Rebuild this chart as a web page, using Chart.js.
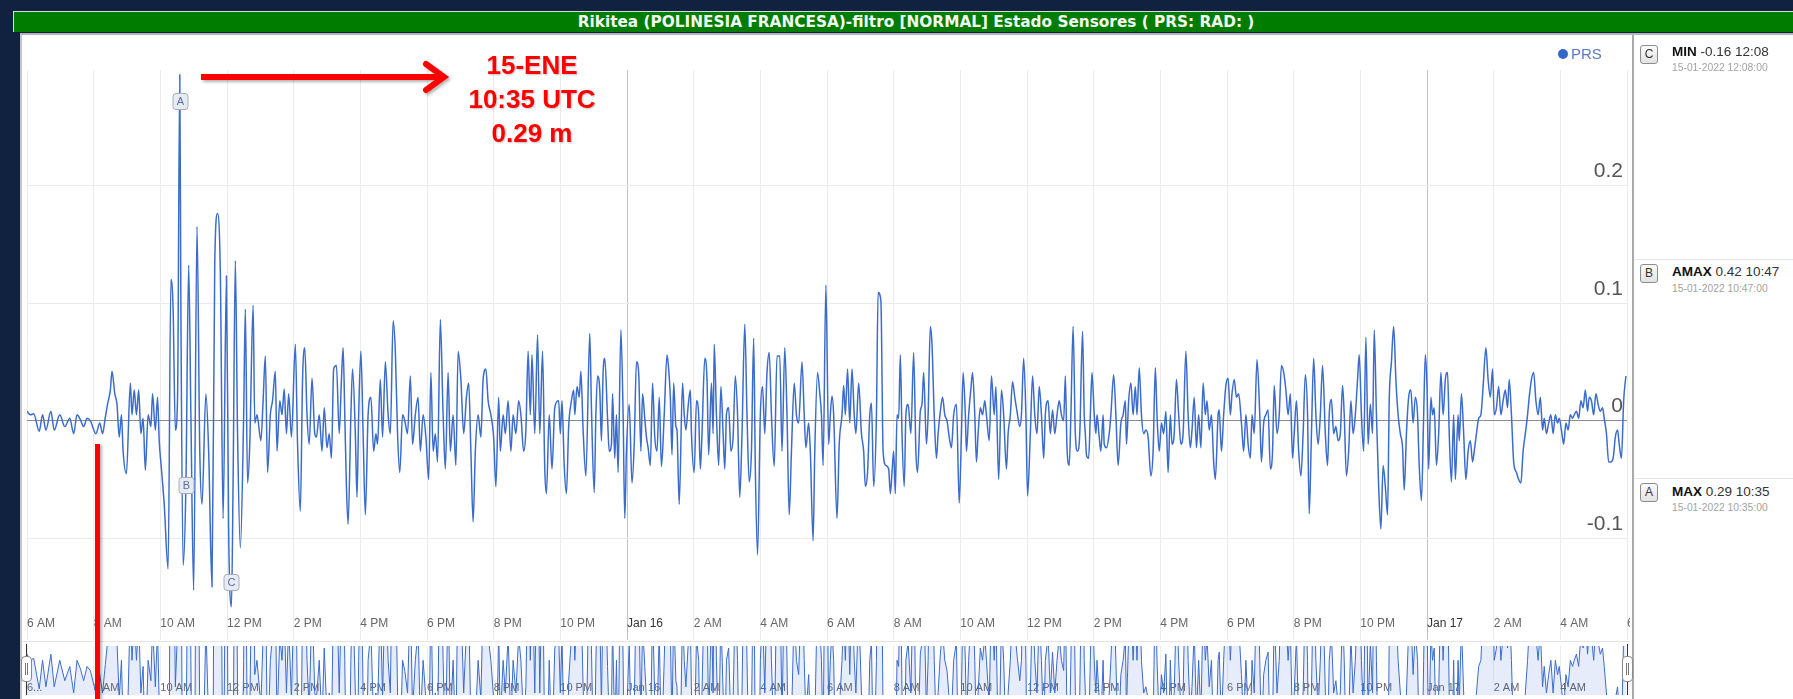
<!DOCTYPE html>
<html>
<head>
<meta charset="utf-8">
<title>Rikitea PRS</title>
<script src="https://cdn.jsdelivr.net/npm/chart.js@4.4.1/dist/chart.umd.min.js"></script>
<style>
  html, body { margin:0; padding:0; }
  body { width:1793px; height:699px; background:#112240; position:relative; overflow:hidden; font-family:"Liberation Sans", Arial, sans-serif; }
  #titlebar { position:absolute; left:13px; top:11px; width:1780px; height:20px; background:#007c00; border-top:1px solid #d6ddd6; border-left:1px solid #d6ddd6; }
  #titletext { position:absolute; left:0; top:0; width:1804px; height:20px; line-height:20px; text-align:center; color:#f2f7f2; font-family:"DejaVu Sans","DejaVu Sans Condensed",sans-serif; font-weight:bold; font-size:15px; white-space:nowrap; }
  #panel { position:absolute; left:20px; top:33px; right:0; bottom:0; background:#fff; border-top:2px solid #b4b4b4; border-left:2px solid #c4c4c4; }
  #mainwrap { position:absolute; left:23px; top:36px; width:1607px; height:604px; overflow:hidden; }
  #navwrap { position:absolute; left:23px; top:641px; width:1607px; height:55px; overflow:hidden; border-top:1px solid #e4e4e4; }
  #sep { position:absolute; left:1632px; top:35px; width:2px; bottom:0; background:#a9a9a9; }
  .hline { position:absolute; left:1634px; right:0; height:1px; background:#e6e6e6; }
  .abox { position:absolute; left:1640px; width:16px; height:17px; border:1px solid #8c8c8c; border-radius:3px; background:linear-gradient(#fbfbfb,#e2e2e2); font-size:12px; line-height:17px; text-align:center; color:#333; }
  .atext { position:absolute; left:1672px; font-size:13.5px; color:#333; white-space:nowrap; }
  .atext b { color:#111; }
  .asub { position:absolute; left:1672px; font-size:10.3px; color:#a3a3a3; white-space:nowrap; }
  #legend { position:absolute; left:1558px; top:46px; height:16px; line-height:16px; font-size:15px; color:#5b78c8; white-space:nowrap; }
  #legend span.dot { display:inline-block; width:10px; height:10px; border-radius:50%; background:#3366cc; vertical-align:0px; margin-right:3px; }
  .handle { position:absolute; width:9px; height:24px; top:656px; border:1px solid #8a8a8a; border-radius:4px; background:#fff; }
  .handle i { position:absolute; top:6px; width:1px; height:12px; background:#777; }
  .hbar { position:absolute; top:644px; width:1px; height:51px; background:#333; }
  #redtext { position:absolute; left:432px; top:48px; width:200px; text-align:center; color:#ff0000; font-weight:bold; font-size:26px; line-height:34px; text-shadow:1px 1px 2px rgba(0,0,0,0.25); }
  #redline { position:absolute; left:95px; top:444px; width:5px; bottom:0; background:#ff0000; box-shadow:2px 1px 3px rgba(0,0,0,0.3); }
  #arrow { position:absolute; left:190px; top:55px; }
</style>
</head>
<body>
<div id="titlebar"><div id="titletext">Rikitea (POLINESIA FRANCESA)-filtro [NORMAL] Estado Sensores ( PRS: RAD: )</div></div>
<div id="panel"></div>
<div id="mainwrap"><canvas id="main" width="1660" height="604"></canvas></div>
<div id="navwrap"><canvas id="nav" width="1607" height="55"></canvas></div>
<div id="sep"></div>

<div id="legend"><span class="dot"></span>PRS</div>

<div class="abox" style="top:45px">C</div>
<div class="atext" style="top:44px"><b>MIN</b> -0.16 12:08</div>
<div class="asub" style="top:62px">15-01-2022 12:08:00</div>
<div class="hline" style="top:259px"></div>
<div class="abox" style="top:264px">B</div>
<div class="atext" style="top:264px"><b>AMAX</b> 0.42 10:47</div>
<div class="asub" style="top:283px">15-01-2022 10:47:00</div>
<div class="hline" style="top:478px"></div>
<div class="abox" style="top:483px">A</div>
<div class="atext" style="top:484px"><b>MAX</b> 0.29 10:35</div>
<div class="asub" style="top:502px">15-01-2022 10:35:00</div>

<div class="hbar" style="left:26px"></div>
<div class="handle" style="left:21px"><i style="left:3px"></i><i style="left:5px"></i></div>
<div class="hbar" style="left:1627px"></div>
<div class="handle" style="left:1622px"><i style="left:3px"></i><i style="left:5px"></i></div>

<svg id="arrow" width="270" height="45" style="overflow:visible">
  <defs><filter id="sh" x="-10%" y="-30%" width="120%" height="160%"><feDropShadow dx="2" dy="2" stdDeviation="1.5" flood-opacity="0.3"/></filter></defs>
  <g filter="url(#sh)" stroke="#ff0000" fill="none" stroke-width="6">
    <line x1="11" y1="22" x2="252" y2="22" stroke-linecap="butt"/>
    <polyline points="236,9 254,22 236,35" stroke-linecap="round" stroke-linejoin="miter"/>
  </g>
</svg>
<div id="redtext">15-ENE<br>10:35 UTC<br>0.29 m</div>
<div id="redline"></div>

<script>
// ---- DATA (minutes after 2022-01-15 06:00 UTC, PRS level in m) ----
const prsMinutes = [
  0,6,12,22,28,34,43,49,59,68, 77,84,90,96,102,108,114,124,131,136,
  141,145,150,153,158,162,166,170,173,179, 186,189,193,197,201,205,209,213,218,223,
  226,231,235,238,242,247,254,259,263,267, 271,275,277,281,286,291,295,300,306,311,
  315,322,327,333,338,343,348,353,359,363, 368,371,375,379,384,390,393,397,401,407,
  410,414,421,425,429,433,438,442,447,450, 455,459,463,467,471,476,483,487,492,496,
  500,504,508,513,518,521,526,531,535,540, 544,548,552,557,562,566,569,572,575,578,
  583,586,591,594,597,601,605,609,614,619, 624,628,631,636,640,645,650,654,659,663,
  667,671,676,680,685,690,694,699,704,708, 713,718,723,727,731,735,739,744,749,753,
  758,762,767,772,776,781,786,791,795,799, 803,807,812,817,821,826,830,835,840,844,
  849,852,857,861,866,871,875,880,885,889, 894,898,902,906,909,914,919,923,928,932,
  935,940,945,950,
  957,960,963,967,971,975,980,984,986,990, 994,997,1001,1006,1013,1016,1021,1024,1027,1031,
  1034,1037,1040,1045,1048,1052,1054,1058,1061,1064, 1069,1073,1076,1079,1084,1089,1093,1097,1101,1105,
  1108,1112,1115,1118,1122,1126,1130,1134,1138,1142, 1147,1152,1155,1158,1161,1164,1168,1170,1174,1180,
  1183,1186,1190,1194,1196,1201,1205,1209,1212,1215, 1220,1224,1227,1232,1235,1237,1241,1245,1249,1253,
  1256,1259,1263,1267,1271,1275,1279,1283,1287,1292, 1296,1300,1304,1308,1311,1315,1320,1324,1328,1332,
  1336,1340,1345,1350,1355,1359,1364,1368,1372,1376, 1381,1385,1389,1395,1399,1402,1407,1410,1415,1418,
  1423,1427,1430,1433,1438,1443,1446,1449,1452,1458, 1462,1467,1470,1473,1477,1481,1485,1489,1492,1497,
  1502,1506,1509,1513,1517,1520,1524,1529,1532,1537, 1541,1546,1551,1554,1557,1560,1563,1566,1569,1572,
  1575,1579,1582,1586,1591,1596,1600,1603,1608,1611, 1614,1619,1622,1626,1629,1633,1637,1640,1644,1648,
  1652,1656,1660,1664,1668,1673,1678,1682,1685,1689, 1691,1695,1699,1702,1706,1709,1712,1716,1720,1724,
  1727,1732,1736,1741,1744,1749,1754,1758,1763,1766, 1770,1774,1778,1783,1787,1790,1794,1798,1801,1806,
  1810,1814,1818,1822,1826,1830,1833,1838,1842,1846, 1850,1854,1858,1862,1866,1869,1872,1876,1879,1883,
  1887,1891,1895,1900,1903,
  1905,1907,1911,1914,1917,1921,1924,1926,1930,1933, 1937,1939,1943,1948,1951,1956,1960,1964,1969,1973,
  1977,1979,1983,1987,1991,1995,1998,2002,2006,2010, 2014,2018,2023,2027,2031,2034,2038,2042,2046,2050,
  2054,2058,2061,2065,2069,2073,2077,2081,2086,2090, 2094,2097,2101,2105,2109,2113,2117,2121,2124,2128,
  2132,2136,2139,2144,2146,2150,2154,2158,2162,2166, 2169,2173,2177,2181,2186,2190,2194,2198,2202,2205,
  2209,2214,2219,2222,2226,2230,2234,2238,2242,2245, 2250,2254,2258,2262,2266,2270,2274,2278,2281,2285,
  2289,2293,2297,2301,2305,2308,2312,2316,2320,2324, 2328,2332,2337,2341,2344,2348,2352,2356,2360,2364,
  2368,2371,2375,2379,2383,2387,2391,2395,2398,2402, 2406,2410,2414,2418,2422,2425,2429,2433,2437,2441,
  2445,2449,2452,2456,2460,2464,2468,2472,2476,2479, 2483,2487,2491,2495,2499,2503,2506,2510,2514,2517,
  2520,2523,2527,2530,2533,2537,2541,2545,2549,2553, 2557,2560,2564,2568,2571,2576,2578,2582,2586,2590,
  2594,2598,2602,2605,2609,2613,2617,2621,2626,2630, 2634,2638,2641,2645,2649,2653,2657,2661,2665,2668,
  2672,2676,2681,2685,2689,2693,2697,2701,2704,2708, 2712,2716,2720,2724,2728,2731,2735,2739,2743,2747,
  2751,2755,2758,2762,2766,2770,2774,2778,2782,2785, 2789,2793,2797,2801,2805,2809,2812,2816,2820,2824,
  2828,2832,2836,2839,2843,2847,2851,2855,2859,2863, 2866,2870,2874,2878
];
const prsValues = [
  0.008,0.005,0.006,-0.009,0.005,-0.008,0.008,-0.008,0.005,-0.005, 0.002,-0.011,0.005,0.001,-0.005,0.002,0.000,-0.011,-0.002,-0.011,
  0.003,0.014,0.026,0.042,0.023,0.014,-0.014,0.005,-0.026,-0.045, 0.032,0.005,0.026,0.005,0.026,-0.011,0.002,-0.042,0.005,-0.005,
  0.023,-0.008,0.020,-0.017,-0.041,-0.071,-0.126,0.120,0.095,-0.008, 0.020,0.294,0.095,-0.123,-0.056,0.132,0.005,-0.144,0.165,-0.026,
  -0.071,0.023,-0.026,-0.141,0.135,0.176,0.126,-0.083,0.123,-0.095, -0.158,-0.050,0.136,-0.011,-0.108,0.005,0.095,-0.053,-0.020,0.098,
  -0.002,0.005,-0.017,0.017,0.055,-0.044,0.005,0.017,0.042,-0.026, 0.017,0.005,0.027,-0.011,0.023,-0.014,0.065,-0.020,-0.077,0.035,
  0.062,0.005,-0.020,0.036,-0.011,-0.014,0.005,-0.026,0.011,-0.023, -0.011,-0.032,0.044,0.047,-0.011,0.035,0.062,0.005,-0.056,-0.088,
  0.005,0.044,-0.011,-0.065,0.005,0.059,-0.011,-0.080,0.005,0.020, -0.026,-0.011,-0.020,0.035,-0.014,0.050,0.005,-0.011,0.085,0.059,
  -0.011,-0.044,0.005,0.000,-0.011,0.038,-0.020,0.005,0.020,-0.026, 0.005,-0.014,-0.050,0.041,-0.026,-0.011,-0.035,0.086,0.005,-0.041,
  0.041,-0.026,0.005,-0.038,0.059,0.035,-0.011,0.020,0.032,-0.026, -0.086,-0.026,0.005,-0.014,0.035,0.044,0.017,0.005,-0.014,-0.056,
  0.020,-0.026,0.005,-0.011,0.017,-0.026,0.005,-0.011,0.017,0.005, -0.026,-0.008,0.059,0.005,0.056,-0.011,0.073,-0.011,0.059,-0.041,
  -0.062,0.005,-0.041,0.011,
  0.017,-0.011,0.017,-0.038,-0.062,-0.005,0.017,0.026,0.005,0.029, 0.020,0.042,-0.008,-0.047,0.074,0.011,-0.061,0.005,0.038,0.026,
  -0.017,0.041,0.053,0.002,-0.026,-0.020,0.023,-0.032,0.005,-0.044, 0.077,0.005,-0.083,-0.026,0.014,-0.053,-0.020,0.050,0.041,-0.026,
  0.023,0.002,-0.014,-0.023,-0.038,0.032,-0.014,-0.026,0.020,-0.039, 0.005,0.056,0.044,0.020,-0.029,0.032,-0.005,-0.008,-0.071,0.032,
  0.005,-0.008,0.012,0.026,-0.011,-0.044,0.017,0.005,-0.041,-0.011, 0.053,0.035,-0.029,0.032,-0.011,0.065,0.005,-0.038,0.029,-0.011,
  -0.041,0.005,0.011,-0.026,-0.014,0.038,0.005,-0.065,-0.011,0.082, 0.005,-0.052,-0.026,0.070,-0.041,-0.114,0.005,0.029,-0.011,0.041,
  0.058,0.005,-0.039,0.055,0.055,-0.026,0.062,0.005,-0.080,-0.026, 0.032,0.005,-0.002,0.050,0.005,-0.023,-0.002,-0.026,-0.102,-0.026,
  0.041,0.023,0.005,-0.038,0.115,-0.020,0.005,0.021,0.005,-0.083, -0.020,0.005,0.030,0.005,0.044,-0.002,0.044,0.005,-0.011,0.032,
  -0.011,-0.026,-0.056,-0.044,0.005,0.015,-0.056,0.005,0.109,0.102, -0.026,-0.038,-0.041,-0.062,-0.044,-0.026,-0.062,0.005,0.002,0.056,
  -0.011,-0.056,0.005,0.014,-0.011,0.058,-0.026,-0.044,0.008,0.014, 0.041,-0.020,0.005,0.080,0.065,0.005,-0.032,-0.011,0.008,0.020,
  0.005,0.000,-0.014,-0.023,0.005,0.014,-0.070,-0.011,0.041,0.005, -0.026,0.005,0.027,0.041,0.005,-0.035,-0.011,0.011,0.005,0.017,
  0.005,-0.017,0.038,0.005,0.029,-0.050,0.026,0.005,-0.041,-0.011, 0.005,0.033,0.020,0.005,-0.005,0.005,0.053,0.005,-0.064,-0.011,
  0.038,0.005,-0.011,0.029,0.005,-0.032,0.005,0.017,-0.011,0.009, -0.011,0.005,0.017,0.005,0.000,0.038,-0.023,-0.038,0.005,0.080,
  -0.011,-0.026,-0.011,0.076,0.005,
  -0.011,-0.029,-0.032,0.005,0.041,0.005,-0.011,0.005,-0.014,-0.026, 0.005,-0.020,-0.023,-0.011,0.005,0.039,0.005,-0.038,-0.002,0.005,
  0.017,-0.020,0.017,0.032,0.005,0.029,0.005,0.045,0.005,-0.011, -0.008,-0.014,-0.047,-0.026,0.045,0.005,-0.026,-0.002,-0.011,0.008,
  -0.044,0.005,-0.020,-0.011,0.035,0.005,-0.020,-0.011,0.059,0.005, -0.023,-0.008,0.020,-0.023,0.005,-0.023,0.032,0.005,0.017,-0.008,
  0.005,-0.035,-0.050,0.005,0.009,-0.026,0.005,0.030,0.036,0.005, 0.023,0.035,0.020,0.023,-0.002,-0.026,0.005,-0.020,-0.032,0.005,
  -0.011,0.052,0.005,-0.035,-0.002,0.005,0.009,-0.041,-0.026,0.030, -0.011,0.005,0.047,0.041,0.026,0.005,0.023,-0.032,-0.011,0.017,
  -0.026,-0.047,-0.011,0.039,0.005,-0.079,-0.011,0.053,0.005,-0.020, 0.005,0.047,-0.011,-0.038,0.005,0.018,-0.011,-0.005,-0.017,-0.011,
  0.030,0.005,-0.047,-0.026,0.017,-0.011,0.005,0.035,0.056,0.005, -0.026,0.071,-0.020,0.014,-0.011,0.077,0.005,-0.056,-0.092,-0.038,
  -0.056,-0.080,0.017,0.050,0.080,0.035,0.005,-0.011,-0.023,-0.059, -0.011,0.020,0.026,-0.002,0.020,0.005,-0.038,-0.068,0.005,0.056,
  0.029,-0.041,0.020,0.005,0.011,-0.038,-0.011,0.041,0.005,0.035, 0.041,-0.011,-0.052,0.005,-0.050,0.005,-0.017,0.023,-0.011,-0.050,
  -0.026,-0.017,-0.035,-0.026,-0.011,0.002,0.005,0.029,0.062,0.035, 0.020,0.044,0.005,0.011,0.029,0.005,0.017,0.026,0.011,0.035,
  0.005,-0.035,-0.044,-0.050,-0.053,-0.026,-0.011,0.005,0.020,0.035, 0.041,0.017,0.005,0.020,-0.008,0.002,-0.011,-0.002,0.005,-0.011,
  0.005,-0.002,0.002,-0.008,-0.020,-0.002,-0.008,0.005,0.002,0.005, 0.008,0.002,0.017,0.011,0.026,0.008,0.020,0.017,0.005,0.023,
  0.014,0.008,0.011,0.002,-0.011,-0.035,-0.035,-0.032,-0.014,-0.008, -0.020,-0.032,0.017,0.038
];

// x-axis ticks every 2 h (minutes after 06:00 UTC on Jan 15)
const tickMinutes = [0,120,240,360,480,600,720,840,960,1080,1200,1320,1440,1560,1680,1800,1920,2040,2160,2280,2400,2520,2640,2760,2880];
const tickLabels = ["6 AM","8 AM","10 AM","12 PM","2 PM","4 PM","6 PM","8 PM","10 PM","Jan 16","2 AM","4 AM","6 AM","8 AM","10 AM","12 PM","2 PM","4 PM","6 PM","8 PM","10 PM","Jan 17","2 AM","4 AM","6 AM"];
const navTickLabels = ["6...","8 AM","10 AM","12 PM","2 PM","4 PM","6 PM","8 PM","10 PM","Jan 16","2 AM","4 AM","6 AM","8 AM","10 AM","12 PM","2 PM","4 PM","6 PM","8 PM","10 PM","Jan 17","2 AM","4 AM",""];
const dayTicks = [1080, 2520];
const yTickValues = [-0.1, 0, 0.1, 0.2];
const yTickLabels = ["-0.1", "0", "0.1", "0.2"];
const yRange = [-0.16, 0.298];

// annotation flags
const flagLetters = ["A", "B", "C"];
const flagMinutes = [275, 287, 368];   // 10:35, 10:47, 12:08
const flagLevels = [0.272, -0.055, -0.137];

// fit title text to its measured width in the reference
(function () {
  const el = document.getElementById('titletext');
  const c = document.createElement('canvas').getContext('2d');
  c.font = 'bold 15px "DejaVu Sans"';
  const w = c.measureText(el.textContent).width;
  if (w > 0) el.style.fontSize = (15 * 677 / w).toFixed(2) + 'px';
})();

// ---- CHART ----
const n = Math.min(prsMinutes.length, prsValues.length);
const points = [];
for (let i = 0; i < n; i++) points.push({ x: prsMinutes[i], y: prsValues[i] });

const FONT = '"Liberation Sans", Arial, sans-serif';

const flagPlugin = {
  id: 'flags',
  afterDatasetsDraw(chart) {
    const { ctx } = chart; const xs = chart.scales.x, ys = chart.scales.y;
    ctx.save();
    ctx.font = '11px ' + FONT;
    ctx.textAlign = 'center'; ctx.textBaseline = 'middle';
    flagLetters.forEach((L, i) => {
      const cx = Math.round(xs.getPixelForValue(flagMinutes[i]));
      const cy = Math.round(ys.getPixelForValue(flagLevels[i]));
      const w = 15, h = 16;
      ctx.beginPath();
      ctx.roundRect(cx - w / 2 + 0.5, cy - h / 2 + 0.5, w, h, 3);
      ctx.fillStyle = '#e8ebf1'; ctx.fill();
      ctx.strokeStyle = '#a6adbd'; ctx.lineWidth = 1; ctx.stroke();
      ctx.fillStyle = '#5a6ea8';
      ctx.fillText(L, cx + 0.5, cy + 1);
    });
    ctx.restore();
  }
};

new Chart(document.getElementById('main'), {
  type: 'line',
  data: { datasets: [{ data: points, borderColor: '#3b6ccc', borderWidth: 1.5, pointRadius: 0,
    cubicInterpolationMode: 'monotone', fill: false }] },
  options: {
    responsive: false, animation: false, events: [],
    layout: { padding: { left: 4, top: 34, right: 56, bottom: 0 } },
    plugins: { legend: { display: false }, tooltip: { enabled: false } },
    scales: {
      x: {
        type: 'linear', min: 0, max: 2880, position: 'bottom',
        afterBuildTicks: s => { s.ticks = tickMinutes.map(v => ({ value: v })); },
        afterFit: s => { s.height = 31; },
        border: { display: false },
        grid: {
          color: c => dayTicks.includes(c.tick && c.tick.value) ? '#c2c2c2' : '#ebebeb',
          lineWidth: 1, drawTicks: true, tickLength: 31
        },
        ticks: {
          autoSkip: false, maxRotation: 0, minRotation: 0, align: 'start', padding: -24,
          font: { family: FONT, size: 12 },
          color: c => dayTicks.includes(c.tick && c.tick.value) ? '#333' : '#666',
          callback: (v, i) => tickLabels[i]
        }
      },
      y: {
        type: 'linear', position: 'right', min: yRange[0], max: yRange[1],
        afterBuildTicks: s => { s.ticks = yTickValues.map(v => ({ value: v })); },
        afterFit: s => { s.width = 0; },
        border: { display: false },
        grid: { color: c => (c.tick && c.tick.value === 0) ? '#8c8c8c' : '#ebebeb', lineWidth: 1, drawTicks: false },
        ticks: {
          mirror: true, padding: -4, labelOffset: -14, autoSkip: false,
          font: { family: FONT, size: 21 }, color: '#555',
          callback: (v, i) => yTickLabels[i]
        }
      }
    }
  },
  plugins: [flagPlugin]
});

new Chart(document.getElementById('nav'), {
  type: 'line',
  data: { datasets: [{ data: points, borderColor: '#3b6ccc', borderWidth: 1, pointRadius: 0, tension: 0,
    fill: 'start', backgroundColor: 'rgba(51,102,204,0.12)' }] },
  options: {
    responsive: false, animation: false, events: [],
    layout: { padding: { left: 4, top: 4, right: 3, bottom: 2 } },
    plugins: { legend: { display: false }, tooltip: { enabled: false } },
    scales: {
      x: {
        type: 'linear', min: 0, max: 2880, z: 1,
        afterBuildTicks: s => { s.ticks = tickMinutes.map(v => ({ value: v })); },
        afterFit: s => { s.height = 0; },
        border: { display: false },
        grid: { color: 'rgba(200,200,200,0.35)', drawTicks: false },
        ticks: {
          autoSkip: false, maxRotation: 0, minRotation: 0, align: 'start', padding: 0, mirror: true,
          font: { family: FONT, size: 11 }, color: '#666',
          showLabelBackdrop: true, backdropColor: 'rgba(255,255,255,0.85)', backdropPadding: 1,
          callback: (v, i) => navTickLabels[i]
        }
      },
      y: { display: false, min: -0.012, max: 0.012 }
    }
  }
});
</script>
</body>
</html>
